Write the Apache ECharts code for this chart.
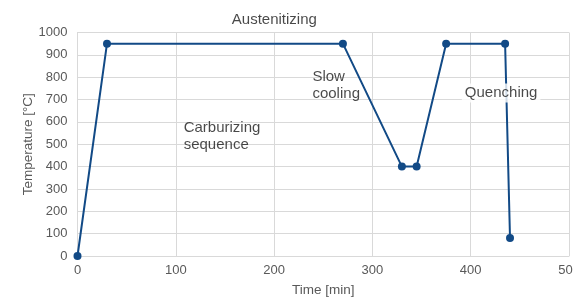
<!DOCTYPE html>
<html><head><meta charset="utf-8">
<script src="https://cdn.jsdelivr.net/npm/echarts@6/dist/echarts.min.js"></script>
<style>html,body{margin:0;padding:0;background:#fff}#c{width:573px;height:298px}</style>
</head><body><div id="c"></div>
<script>
const timeMin = [0, 30, 270, 330, 345, 375, 435, 440];
const tempC = [0, 950, 950, 400, 400, 950, 950, 80];
const xTicks = {min: 0, max: 500, interval: 100};
const yTicks = {min: 0, max: 1000, interval: 100};
const annotationTexts = ['Austenitizing', 'Carburizing\nsequence', 'Slow\ncooling', 'Quenching'];
const annotationX = [157, 108, 239, 391];
const annotationY = [1056, 536, 764, 729];
const annotationBg = [false, false, false, true];
const FONT = 'Liberation Sans, Arial, sans-serif';
const chart = echarts.init(document.getElementById('c'), null, {renderer: 'canvas'});
const pts = timeMin.map((t, i) => [t, tempC[i]]);
chart.setOption({
  animation: false,
  textStyle: {fontFamily: FONT},
  grid: {left: 77.5, right: 4, top: 32.5, bottom: 42, containLabel: false, outerBoundsMode: 'none'},
  xAxis: {
    type: 'value', min: xTicks.min, max: xTicks.max, interval: xTicks.interval,
    name: 'Time [min]', nameLocation: 'middle', nameGap: 27, nameMoveOverlap: false,
    nameTextStyle: {color: '#595959', fontSize: 13.5, fontFamily: FONT},
    axisLine: {show: true, lineStyle: {color: '#d9d9d9'}},
    axisTick: {show: false},
    axisLabel: {color: '#595959', fontSize: 13, margin: 8, fontFamily: FONT, showMaxLabel: true,
      formatter: v => String(v)},
    splitLine: {show: true, lineStyle: {color: '#d9d9d9'}}
  },
  yAxis: {
    type: 'value', min: yTicks.min, max: yTicks.max, interval: yTicks.interval,
    name: 'Temperature [°C]', nameLocation: 'middle', nameGap: 42, nameRotate: 90, nameMoveOverlap: false,
    nameTextStyle: {color: '#595959', fontSize: 13.5, fontFamily: FONT},
    axisLine: {show: true, lineStyle: {color: '#d9d9d9'}},
    axisTick: {show: false},
    axisLabel: {color: '#595959', fontSize: 13, margin: 10, fontFamily: FONT,
      formatter: v => String(v)},
    splitLine: {show: true, lineStyle: {color: '#d9d9d9'}}
  },
  series: [{
    type: 'line', data: pts, symbol: 'circle', symbolSize: 8,
    lineStyle: {color: '#124a86', width: 2}, itemStyle: {color: '#124a86'},
    z: 2
  }, {
    type: 'scatter', symbolSize: 0, silent: true, z: 5, clip: false,
    itemStyle: {color: 'transparent'},
    data: annotationTexts.map((t, i) => ({
      value: [annotationX[i], annotationY[i]],
      label: {
        show: true, position: 'right', distance: 0, align: 'left', verticalAlign: 'middle',
        formatter: t,
        color: '#1a1a1a', fontSize: 15, lineHeight: 17, fontFamily: FONT,
        backgroundColor: annotationBg[i] ? '#fff' : 'transparent',
        padding: annotationBg[i] ? [1, 3] : 0
      }
    }))
  }]
});
</script></body></html>
